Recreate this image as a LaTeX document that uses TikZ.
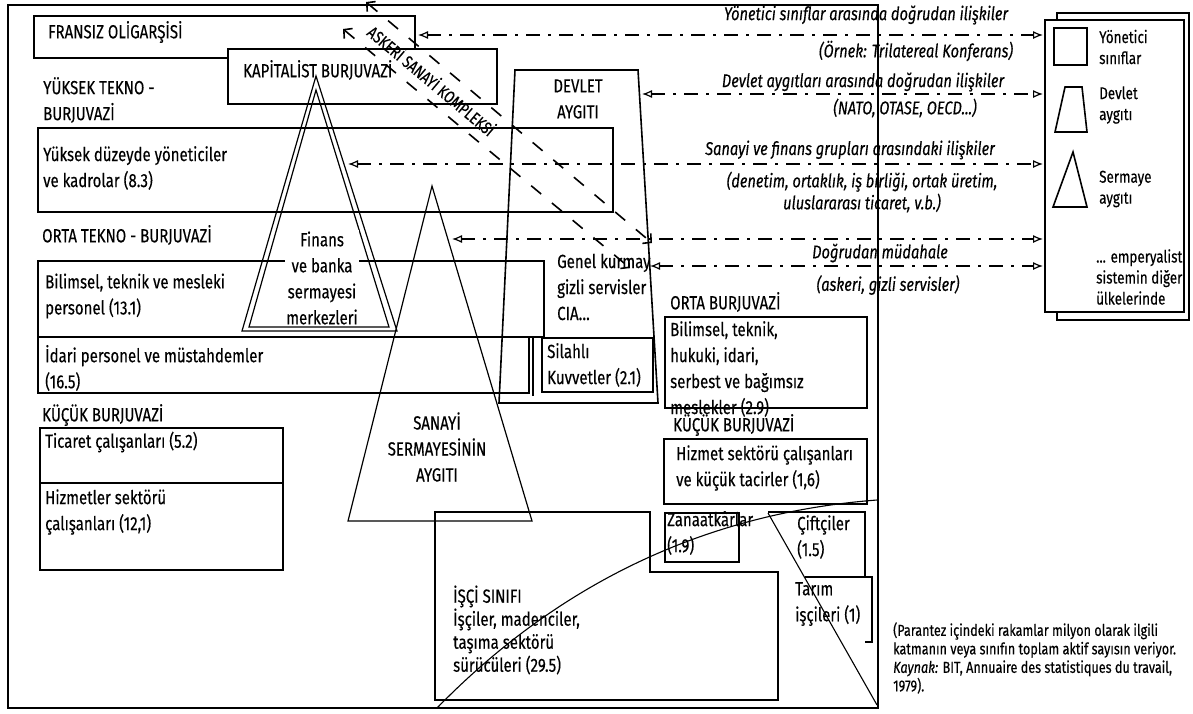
\documentclass[tikz,border=0pt]{standalone}
\usepackage{fontspec}
\setmainfont{Fira Sans}[FakeStretch=0.79,FakeBold=0.3]
\usetikzlibrary{arrows.meta}

\tikzset{
  box/.style={draw, line width=1.6pt},
  fineline/.style={draw, line width=1.1pt},
  tri/.style={draw, line width=1.2pt, line join=miter},
  lbl/.style={inner sep=0pt, anchor=west, align=left, font=\fontsize{19}{26}\selectfont},
  lgd/.style={lbl, font=\fontsize{17}{21}\selectfont},
  relnote/.style={inner sep=0pt, font=\itshape\fontsize{18.5}{22}\selectfont},
  rel/.style={line width=1.2pt, dash pattern=on 14pt off 8pt on 3pt off 8pt,
    {Latex[open,length=10pt,width=8pt]}-{Latex[open,length=10pt,width=8pt]}},
  band/.style={line width=1.6pt, dash pattern=on 13pt off 14pt,
    {Straight Barb[length=6pt,width=13pt]}-{Straight Barb[length=6pt,width=13pt]}},
}

\begin{document}
\begin{tikzpicture}[x=1pt,y=-1pt]
\useasboundingbox (0,0) rectangle (1193,713);

% cerceve
\draw[box] (8,5) rectangle (878,708);

% yonetici siniflar
\draw[box] (34,16) rectangle (415,58);
\node[lbl] (oligarsi) at (48,32) {FRANSIZ OLİGARŞİSİ};
\draw[box, fill=white] (228,49) rectangle (497,104);
\node[lbl] (kapitalist) at (243,70) {KAPİTALİST BURJUVAZİ};

\node[lbl] (yuksek) at (43,100) {YÜKSEK TEKNO -\\BURJUVAZİ};
\draw[box] (38,128) rectangle (613,212);
\node[lbl] (yonetici) at (43,168) {Yüksek düzeyde yöneticiler\\ve kadrolar (8.3)};

\node[lbl] (ortatekno) at (42,235) {ORTA TEKNO - BURJUVAZİ};
\draw[box] (38,261) rectangle (544,337);
\node[lbl] (bilimsel) at (45,296) {Bilimsel, teknik ve mesleki\\personel (13.1)};
\draw[box] (38,337) rectangle (529,393);
\draw[box] (533,338) -- (533,396);
\node[lbl] (idari) at (45,368) {İdari personel ve müstahdemler\\(16.5)};

\node[lbl] (kucuk) at (42,415) {KÜÇÜK BURJUVAZİ};
\draw[box] (40,428) rectangle (283,483);
\node[lbl] (ticaret) at (45,442) {Ticaret çalışanları (5.2)};
\draw[box] (40,483) rectangle (283,570);
\node[lbl] (hizmetler) at (45,512) {Hizmetler sektörü\\çalışanları (12,1)};

% devlet aygiti
\draw[box] (499,403) -- (515,70) -- (638,70) -- (658,403) -- cycle;
\node[lbl, anchor=center, align=center] (devlet) at (578,99) {DEVLET\\AYGITI};
\node[lbl] (kurmay) at (557,287) {Genel kurmay\\gizli servisler\\CIA…};
\draw[box] (542,338) rectangle (653,392);
\node[lbl] (silahli) at (547,365) {Silahlı\\Kuvvetler (2.1)};

% orta ve kucuk burjuvazi
\node[lbl] (ortaburj) at (670,302) {ORTA BURJUVAZİ};
\draw[box] (665,317) rectangle (867,408);
\node[lbl] (serbest) at (670,369) {Bilimsel, teknik,\\hukuki, idari,\\serbest ve bağımsız\\meslekler (2.9)};
\node[lbl] (kucuksag) at (673,425) {KÜÇÜK BURJUVAZİ};
\draw[box] (664,439) rectangle (867,504);
\node[lbl] (tacir) at (676,468) {Hizmet sektörü çalışanları\\ve küçük tacirler (1,6)};
\draw[box] (665,513) rectangle (739,562);
\node[lbl] (zanaat) at (667,533) {Zanaatkârlar\\(1.9)};
\draw[box] (768,512) -- (865,512) -- (865,577);
\node[lbl] (ciftci) at (797,537) {Çiftçiler\\(1.5)};
\draw[box] (805,577) -- (872,577) -- (872,642) -- (865,642);
\node[lbl] (tarim) at (795,604) {Tarım\\işçileri (1)};

% isci sinifi
\draw[box] (435,512) -- (650,512) -- (650,572) -- (778,572) -- (778,700) -- (435,700) -- cycle;
\node[lbl, font=\fontsize{19}{23}\selectfont] (isci) at (453,630) {İŞÇİ SINIFI\\İşçiler, madenciler,\\taşıma sektörü\\sürücüleri (29.5)};

% sermaye aygitlari
\draw[tri] (316,76) -- (397,331) -- (242,331) -- cycle;
\draw[tri] (316,90) -- (389,327) -- (249,327) -- cycle;
\node[lbl, anchor=center, align=center, fill=white, inner sep=1pt] (finans) at (322,278) {Finans\\ve banka\\sermayesi\\merkezleri};
\draw[tri] (432,186) -- (532,521) -- (348,521) -- cycle;
\node[lbl, anchor=center, align=center] (sanayi) at (437,447) {SANAYİ\\SERMAYESİNİN\\AYGITI};

% askeri sanayi kompleksi
\draw[band] (366,2) -- (652,243);
\draw[band] (343,29) -- (630,268);
\node[lbl, anchor=center, rotate=-40, font=\fontsize{17}{20}\selectfont] (askeri) at (432,80) {ASKERİ SANAYİ KOMPLEKSİ};

% diger ulkeler (lejant)
\draw[box, fill=white] (1057,13) rectangle (1189,320);
\draw[box, fill=white] (1045,20) rectangle (1184,312);
\draw[box] (1054,28) rectangle (1087,65);
\draw[box] (1065,87) -- (1082,87) -- (1087,132) -- (1055,132) -- cycle;
\draw[box] (1073,152) -- (1087,207) -- (1053,207) -- cycle;
\node[lgd] (lg-sinif) at (1099,47) {Yönetici\\sınıflar};
\node[lgd] (lg-devlet) at (1099,105) {Devlet\\aygıtı};
\node[lgd] (lg-sermaye) at (1099,189) {Sermaye\\aygıtı};
\node[lgd] (lg-ulke) at (1096,277) {... emperyalist\\sistemin diğer\\ülkelerinde};

% iliskiler
\coordinate (sinif-uc) at (418,35);
\coordinate (sinif-lg) at (1043,35);
\coordinate (devlet-uc) at (642,94);
\coordinate (devlet-lg) at (1043,94);
\coordinate (finans-uc) at (348,164);
\coordinate (finans-lg) at (1043,164);
\coordinate (sanayi-uc) at (452,239);
\coordinate (sanayi-lg) at (1043,239);
\coordinate (kurmay-uc) at (650,266);
\coordinate (kurmay-lg) at (1043,266);
\draw[rel] (sinif-uc) -- (sinif-lg);
\draw[rel] (devlet-uc) -- (devlet-lg);
\draw[rel] (finans-uc) -- (finans-lg);
\draw[rel] (sanayi-uc) -- (sanayi-lg);
\draw[rel] (kurmay-uc) -- (kurmay-lg);

\node[relnote] (t-sinif) at (866,15) {Yönetici sınıflar arasında doğrudan ilişkiler};
\node[relnote] (t-ornek) at (916,51) {(Örnek: Trilatereal Konferans)};
\node[relnote] (t-devlet) at (863,82) {Devlet aygıtları arasında doğrudan ilişkiler};
\node[relnote] (t-nato) at (905,108) {(NATO, OTASE, OECD...)};
\node[relnote] (t-finans) at (850,150) {Sanayi ve finans grupları arasındaki ilişkiler};
\node[relnote, align=center] (t-denetim) at (862,192) {(denetim, ortaklık, iş birliği, ortak üretim,\\uluslararası ticaret, v.b.)};
\node[relnote] (t-mudahale) at (880,253) {Doğrudan müdahale};
\node[relnote] (t-askeri) at (888,285) {(askeri, gizli servisler)};

% egri ve kosegen
\draw[fineline] (437,708) .. controls (559,583) and (706,513) .. (877,500);
\draw[fineline] (768,513) -- (877,705);

% kaynak
\node[lbl, font=\fontsize{16}{18.5}\selectfont] (kaynak) at (893,658) {(Parantez içindeki rakamlar milyon olarak ilgili\\katmanın veya sınıfın toplam aktif sayısın veriyor.\\\textit{Kaynak:} BIT, Annuaire des statistiques du travail,\\1979).};
\end{tikzpicture}
\end{document}
